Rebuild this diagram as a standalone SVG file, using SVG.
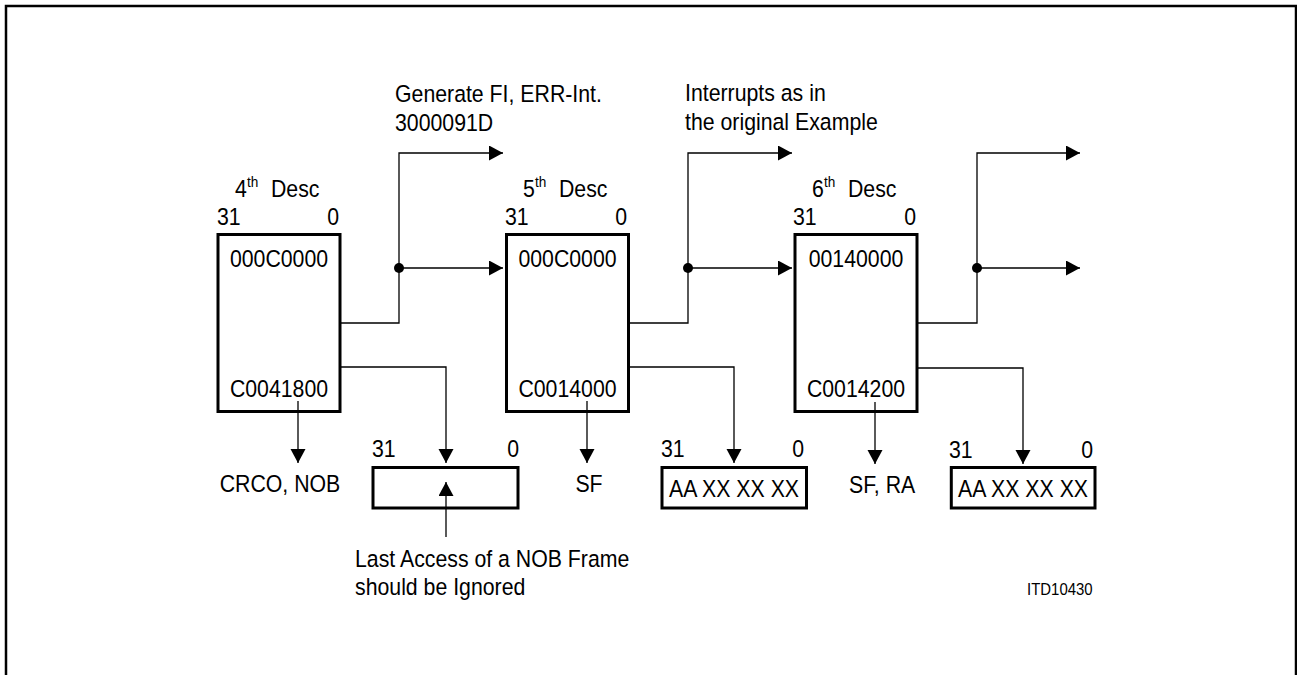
<svg xmlns="http://www.w3.org/2000/svg" width="1297" height="675" viewBox="0 0 1297 675">
<style>
  text { font-family: "Liberation Sans", Arial, sans-serif; font-size: 23.5px; fill: #000; }
  .sup { font-size: 15px; }
  .small { font-size: 16.5px; }
  .mid { text-anchor: middle; }
  .end { text-anchor: end; }
  .box { fill: none; stroke: #000; stroke-width: 3; }
  .frame { fill: none; stroke: #000; stroke-width: 2.5; }
  .conn { fill: none; stroke: #000; stroke-width: 1.3; }
</style>
<defs>
  <marker id="arr" markerUnits="userSpaceOnUse" markerWidth="15" markerHeight="16" refX="14" refY="7.5" orient="auto">
    <path d="M0,0 L14,7.5 L0,15 z" fill="#000"/>
  </marker>
</defs>
<rect class="frame" x="6" y="6" width="1290" height="700"/>

<g id="desc4">
  <text transform="translate(235,197) scale(0.906,1)">4</text>
  <text class="sup" transform="translate(247,187) scale(0.906,1)">th</text>
  <text transform="translate(271,197) scale(0.906,1)">Desc</text>
  <text transform="translate(217,225) scale(0.906,1)">31</text>
  <text class="end" transform="translate(339,225) scale(0.906,1)">0</text>
  <rect class="box" x="218" y="234.5" width="122" height="177"/>
  <text class="mid" transform="translate(279,267) scale(0.906,1)">000C0000</text>
  <text class="mid" transform="translate(279,397) scale(0.906,1)">C0041800</text>
  <text class="mid" transform="translate(280,492) scale(0.906,1)">CRCO, NOB</text>
</g>

<g id="reg1">
  <text transform="translate(372,457) scale(0.906,1)">31</text>
  <text class="end" transform="translate(519,457) scale(0.906,1)">0</text>
  <rect class="box" x="373" y="467.5" width="145" height="40.5"/>
</g>

<g id="note-nob">
  <text transform="translate(355,567) scale(0.906,1)">Last Access of a NOB Frame</text>
  <text transform="translate(355,595) scale(0.906,1)">should be Ignored</text>
</g>

<g id="label-generate">
  <text transform="translate(395,102) scale(0.906,1)">Generate FI, ERR-Int.</text>
  <text transform="translate(395,131) scale(0.906,1)">3000091D</text>
</g>

<g id="label-interrupts">
  <text transform="translate(685,101) scale(0.906,1)">Interrupts as in</text>
  <text transform="translate(685,130) scale(0.906,1)">the original Example</text>
</g>

<g id="desc5">
  <text transform="translate(523,197) scale(0.906,1)">5</text>
  <text class="sup" transform="translate(535,187) scale(0.906,1)">th</text>
  <text transform="translate(559,197) scale(0.906,1)">Desc</text>
  <text transform="translate(505,225) scale(0.906,1)">31</text>
  <text class="end" transform="translate(627,225) scale(0.906,1)">0</text>
  <rect class="box" x="506.5" y="234.5" width="122" height="177"/>
  <text class="mid" transform="translate(567.5,267) scale(0.906,1)">000C0000</text>
  <text class="mid" transform="translate(567.5,397) scale(0.906,1)">C0014000</text>
  <text class="mid" transform="translate(589,492) scale(0.906,1)">SF</text>
</g>

<g id="reg2">
  <text transform="translate(661,457) scale(0.906,1)">31</text>
  <text class="end" transform="translate(804,457) scale(0.906,1)">0</text>
  <rect class="box" x="662" y="467.5" width="144.5" height="40.5"/>
  <text class="mid" transform="translate(734,497) scale(0.906,1)">AA XX XX XX</text>
</g>

<g id="desc6">
  <text transform="translate(812,197) scale(0.906,1)">6</text>
  <text class="sup" transform="translate(824,187) scale(0.906,1)">th</text>
  <text transform="translate(848,197) scale(0.906,1)">Desc</text>
  <text transform="translate(793,225) scale(0.906,1)">31</text>
  <text class="end" transform="translate(916,225) scale(0.906,1)">0</text>
  <rect class="box" x="795" y="234.5" width="122" height="177"/>
  <text class="mid" transform="translate(856,267) scale(0.906,1)">00140000</text>
  <text class="mid" transform="translate(856,397) scale(0.906,1)">C0014200</text>
  <text transform="translate(849,493) scale(0.906,1)">SF, RA</text>
</g>

<g id="reg3">
  <text transform="translate(949,458) scale(0.906,1)">31</text>
  <text class="end" transform="translate(1093,458) scale(0.906,1)">0</text>
  <rect class="box" x="951.3" y="467.5" width="143.7" height="40.5"/>
  <text class="mid" transform="translate(1023,497) scale(0.906,1)">AA XX XX XX</text>
</g>

<g id="label-id">
  <text class="small" transform="translate(1027,595) scale(0.906,1)">ITD10430</text>
</g>

<g id="connectors">
  <path class="conn" d="M340 323 H399 V153 H503" marker-end="url(#arr)"/>
  <path class="conn" d="M399 268 H503" marker-end="url(#arr)"/>
  <circle cx="399" cy="268" r="5" fill="#000"/>
  <path class="conn" d="M340 367 H446 V463" marker-end="url(#arr)"/>
  <path class="conn" d="M298 401 V463" marker-end="url(#arr)"/>
  <path class="conn" d="M446 537 V482" marker-end="url(#arr)"/>

  <path class="conn" d="M628 323 H688 V153 H792" marker-end="url(#arr)"/>
  <path class="conn" d="M688 268 H792" marker-end="url(#arr)"/>
  <circle cx="688" cy="268" r="5" fill="#000"/>
  <path class="conn" d="M628 367 H734 V463" marker-end="url(#arr)"/>
  <path class="conn" d="M587 401 V463" marker-end="url(#arr)"/>

  <path class="conn" d="M917 323 H977 V153 H1080" marker-end="url(#arr)"/>
  <path class="conn" d="M977 268 H1080" marker-end="url(#arr)"/>
  <circle cx="977" cy="268" r="5" fill="#000"/>
  <path class="conn" d="M917 368 H1023 V464" marker-end="url(#arr)"/>
  <path class="conn" d="M875 402 V464" marker-end="url(#arr)"/>
</g>
</svg>
